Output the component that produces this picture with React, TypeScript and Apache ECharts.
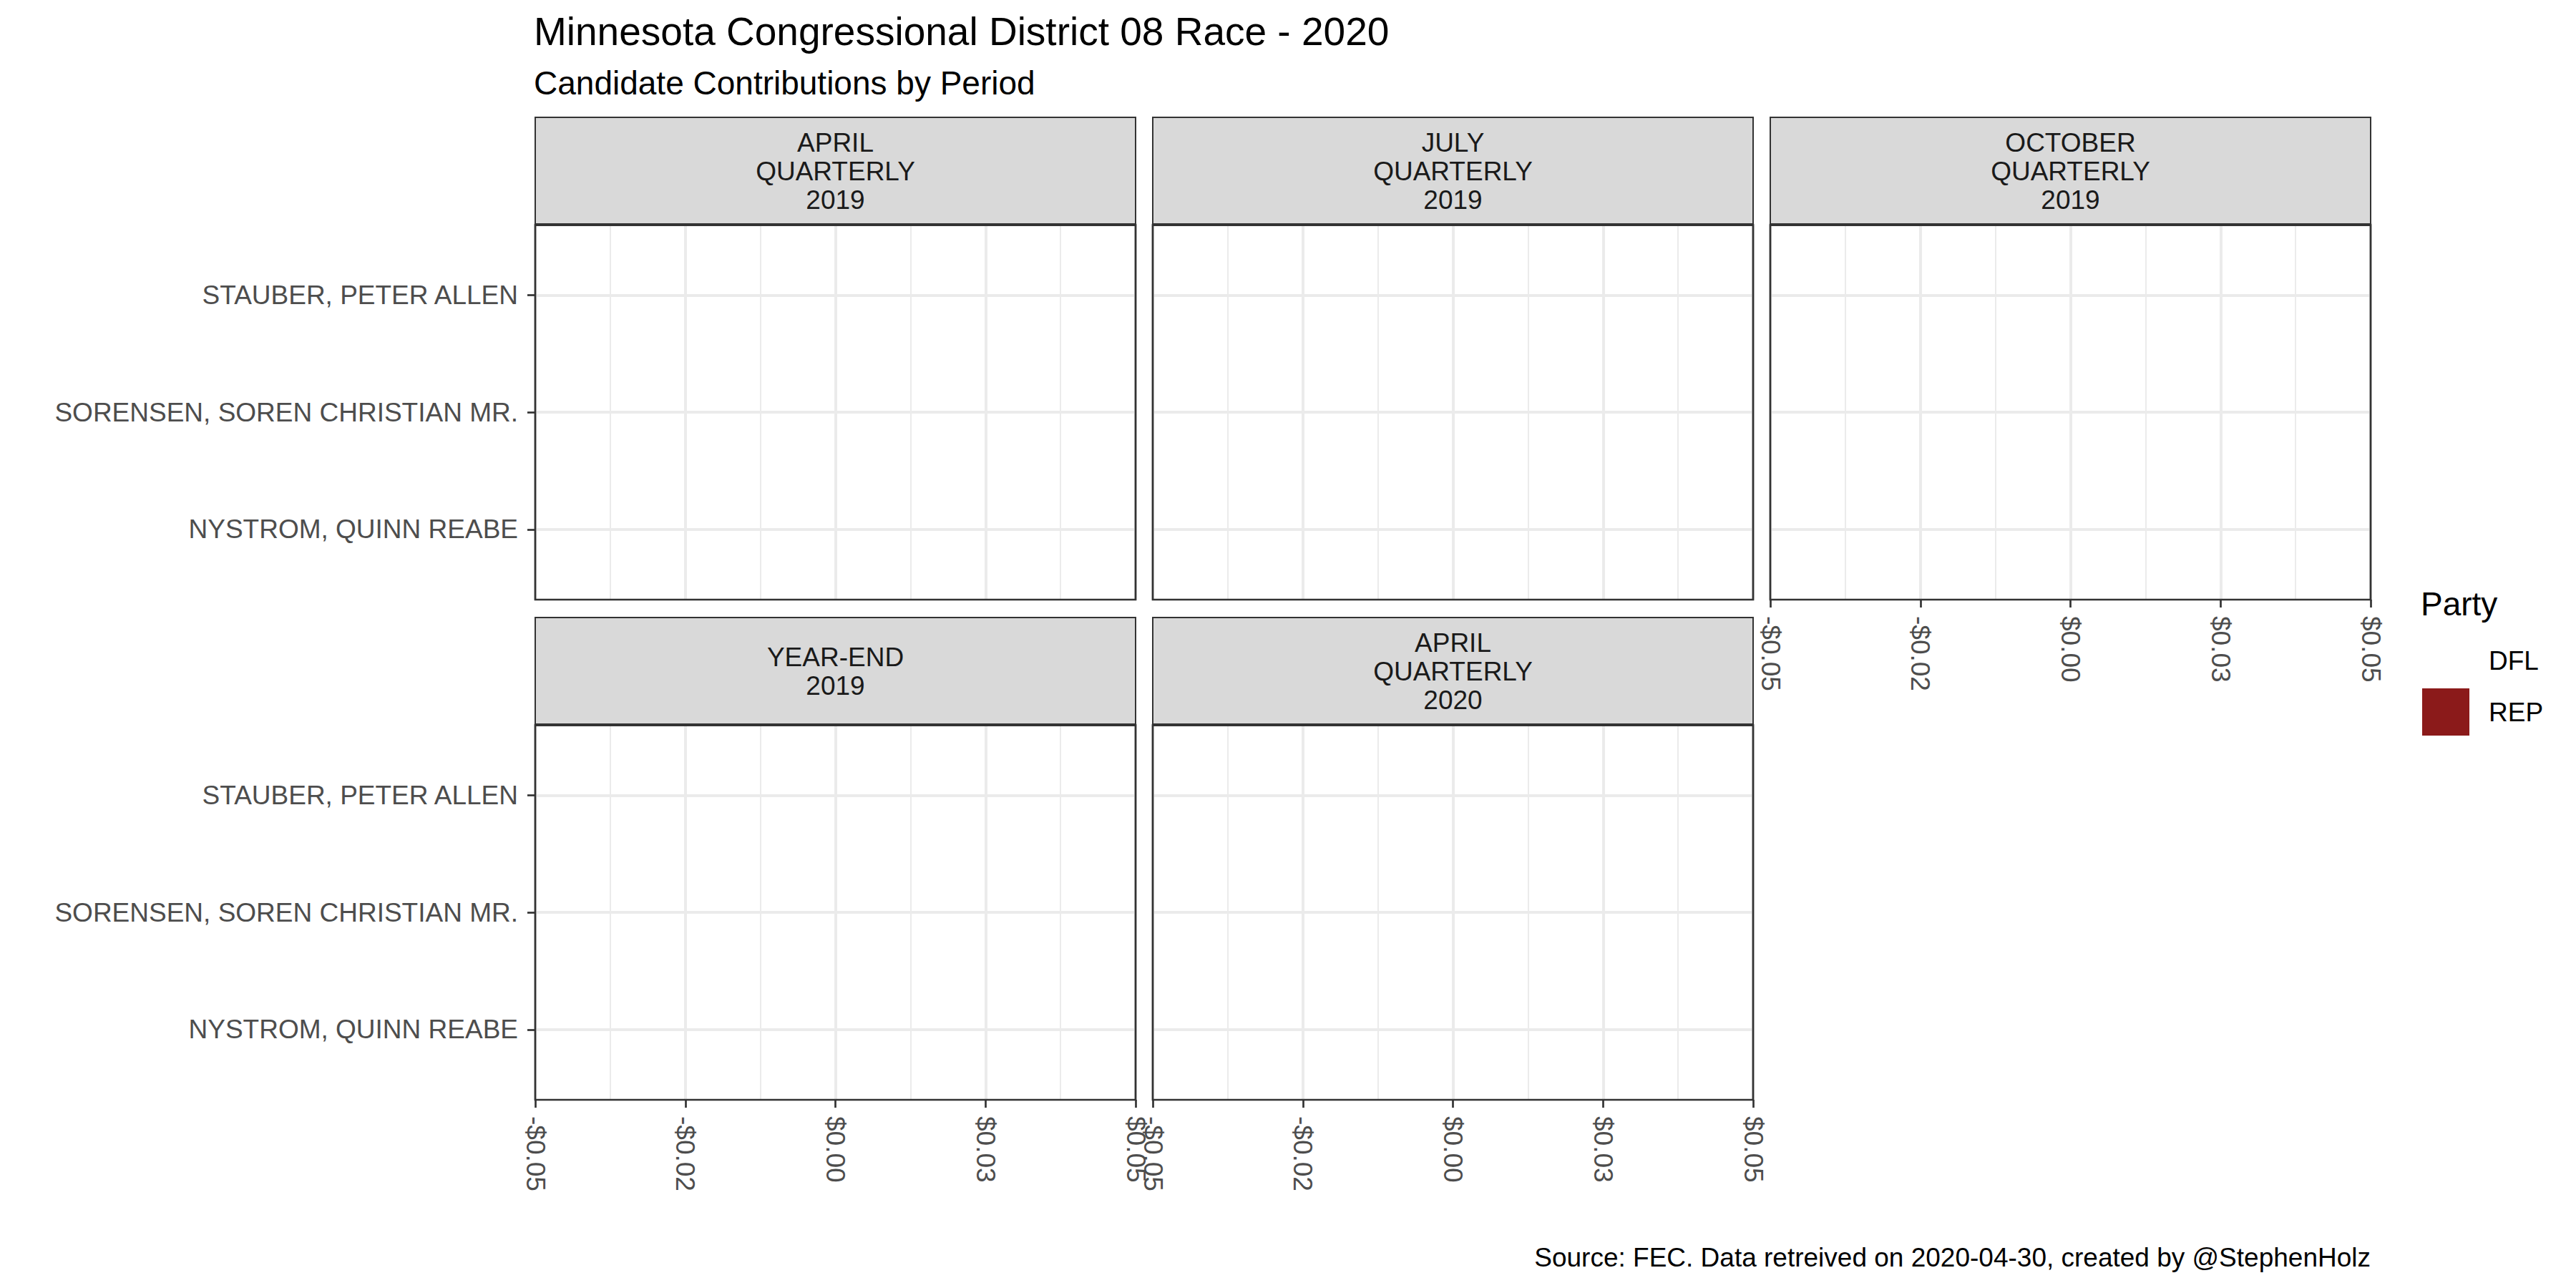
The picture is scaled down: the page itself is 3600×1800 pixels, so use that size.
import React, { useEffect, useRef } from "react";
import * as echarts from "echarts";

// ---- data ----
const candidates = ["NYSTROM, QUINN REABE", "SORENSEN, SOREN CHRISTIAN MR.", "STAUBER, PETER ALLEN"];
const candidateParty = ["DFL", "DFL", "REP"];
const periods = ["APRIL\nQUARTERLY\n2019", "JULY\nQUARTERLY\n2019", "OCTOBER\nQUARTERLY\n2019", "YEAR-END\n2019", "APRIL\nQUARTERLY\n2020"];
// contributions (dollars) per candidate, per period
const aprilQ2019 = [0, 0, 0];
const julyQ2019 = [0, 0, 0];
const octoberQ2019 = [0, 0, 0];
const yearEnd2019 = [0, 0, 0];
const aprilQ2020 = [0, 0, 0];
const periodValues = [aprilQ2019, julyQ2019, octoberQ2019, yearEnd2019, aprilQ2020];
const parties = ["DFL", "REP"];
const partyColors = ["rgba(0,0,0,0)", "#8B1A1A"];
const xTickLabels = ["-$0.05", "-$0.02", "$0.00", "$0.03", "$0.05"];
const xMin = -0.05;
const xMax = 0.05;
const xStep = 0.025;

const FONT = '"Liberation Sans", Arial, Helvetica, sans-serif';
const SMALL = 37;
const MID = 46;
const BIG = 55;

export default function App() {
  const ref = useRef<HTMLDivElement>(null);
  useEffect(() => {
    if (!ref.current) return;
    const chart = echarts.init(ref.current, null, { renderer: "svg", width: 3600, height: 1800 });

    const colLeft = [748, 1611, 2474];
    const panelW = 839;
    const rowTop = [314, 1013];
    const panelH = 524;
    const stripH = 150;

    const grids: any[] = [];
    const xAxes: any[] = [];
    const yAxes: any[] = [];
    const series: any[] = [];
    const graphics: any[] = [];

    periods.forEach((p, i) => {
      const col = i % 3;
      const row = Math.floor(i / 3);
      const left = colLeft[col];
      const top = rowTop[row];
      const showX = row === 1 || col === 2;
      const showY = col === 0;
      grids.push({
        left,
        top,
        width: panelW,
        height: panelH,
        show: true,
        backgroundColor: "#ffffff",
        borderWidth: 0,
        containLabel: false,
      });
      xAxes.push({
        type: "value",
        gridIndex: i,
        min: xMin,
        max: xMax,
        interval: xStep,
        position: "bottom",
        axisLine: { show: false, onZero: false },
        axisTick: { show: showX, length: 11, lineStyle: { color: "#333333", width: 2.7 } },
        axisLabel: {
          show: showX,
          rotate: -90,
          margin: 23,
          color: "#4d4d4d",
          fontSize: SMALL,
          fontFamily: FONT,
          showMinLabel: true,
          showMaxLabel: true,
          formatter: (v: number) => xTickLabels[Math.round((v - xMin) / xStep)] ?? "",
        },
        splitLine: { show: true, lineStyle: { color: "#ebebeb", width: 4 } },
        minorTick: { show: false, splitNumber: 2 },
        minorSplitLine: { show: true, lineStyle: { color: "#ebebeb", width: 2 } },
      });
      yAxes.push({
        type: "value",
        gridIndex: i,
        min: 0.4,
        max: 3.6,
        position: "left",
        axisLine: { show: false, onZero: false },
        axisTick: {
          show: showY,
          length: 11,
          customValues: [1, 2, 3],
          lineStyle: { color: "#333333", width: 2.7 },
        },
        axisLabel: {
          show: showY,
          customValues: [1, 2, 3],
          margin: 24,
          color: "#4d4d4d",
          fontSize: SMALL,
          fontFamily: FONT,
          formatter: (v: number) => candidates[Math.round(v) - 1] ?? "",
        },
        splitLine: { show: true, lineStyle: { color: "#ebebeb", width: 4 } },
      });
      parties.forEach((party, k) => {
        const data: any[] = [];
        candidates.forEach((c, ci) => {
          if (candidateParty[ci] === party) data.push([periodValues[i][ci], ci + 1]);
        });
        series.push({
          type: "custom",
          name: party,
          xAxisIndex: i,
          yAxisIndex: i,
          itemStyle: { color: partyColors[k] },
          encode: { x: 0, y: 1 },
          data,
          renderItem: (params: any, api: any) => {
            const v = api.value(0);
            const y = api.value(1);
            const s = api.coord([0, y]);
            const e = api.coord([v, y]);
            const h = api.size([0, 0.9])[1];
            return {
              type: "rect",
              shape: { x: Math.min(s[0], e[0]), y: s[1] - h / 2, width: Math.abs(e[0] - s[0]), height: h },
              style: { fill: api.visual("color") },
            };
          },
        });
      });
      // panel border
      graphics.push({
        type: "rect",
        shape: { x: left, y: top, width: panelW, height: panelH },
        style: { fill: "none", stroke: "#333333", lineWidth: 2.7 },
        z: 10,
      });
      // strip
      const stripTop = top - stripH;
      graphics.push({
        type: "rect",
        shape: { x: left, y: stripTop, width: panelW, height: stripH },
        style: { fill: "#d9d9d9", stroke: "#333333", lineWidth: 2 },
        z: 10,
      });
      graphics.push({
        type: "line",
        shape: { x1: left, y1: top, x2: left + panelW, y2: top },
        style: { stroke: "#333333", lineWidth: 4 },
        z: 11,
      });
      graphics.push({
        type: "text",
        x: left + panelW / 2,
        y: stripTop + stripH / 2,
        style: {
          text: p,
          fontSize: SMALL,
          fontFamily: FONT,
          fill: "#1a1a1a",
          lineHeight: 40,
          align: "center",
          verticalAlign: "middle",
          textAlign: "center",
          textVerticalAlign: "middle",
        },
        z: 11,
      });
    });

    const textEl = (text: string, x: number, y: number, size: number, align = "left", color = "#000000") => ({
      type: "text",
      x,
      y,
      style: {
        text,
        fontSize: size,
        fontFamily: FONT,
        fill: color,
        align,
        verticalAlign: "middle",
        textAlign: align,
        textVerticalAlign: "middle",
      },
      z: 11,
    });

    graphics.push(textEl("Minnesota Congressional District 08 Race - 2020", 746, 44, BIG));
    graphics.push(textEl("Candidate Contributions by Period", 746, 116, MID));
    graphics.push(textEl("Party", 3383, 844, MID));
    graphics.push(textEl("Source: FEC. Data retreived on 2020-04-30, created by @StephenHolz", 3313, 1757, SMALL, "right"));

    chart.setOption({
      animation: false,
      backgroundColor: "#ffffff",
      grid: grids,
      xAxis: xAxes,
      yAxis: yAxes,
      series,
      legend: {
        orient: "vertical",
        left: 3385,
        top: 890,
        itemWidth: 66,
        itemHeight: 66,
        itemGap: 6,
        padding: 0,
        selectedMode: false,
        data: parties.map((p) => ({ name: p, icon: "rect" })),
        textStyle: { fontSize: SMALL, fontFamily: FONT, color: "#000000", padding: [0, 0, 0, 22] },
      },
      graphic: graphics,
    });
    return () => chart.dispose();
  }, []);
  return (
    <div
      ref={ref}
      style={{ position: "fixed", left: 0, top: 0, width: 3600, height: 1800, background: "#fff" }}
    />
  );
}
